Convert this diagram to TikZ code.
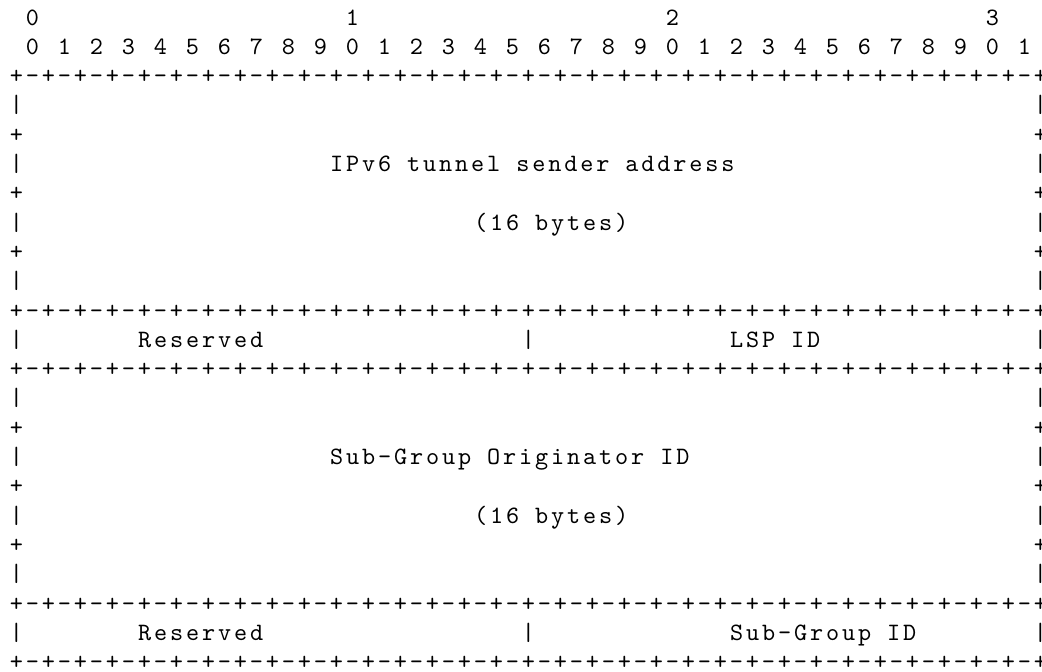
\documentclass[tikz,border=0pt]{standalone}
\usepackage{fontspec}
\usepackage{tikz}
\newfontfamily\rfcmono[LetterSpace=11.5]{lmmono10-regular.otf}
\newfontfamily\rfcglyphs{lmmono10-regular.otf}
\newcommand\rfcfont{\rfcmono\fontsize{25}{29.3}\selectfont}
\newcommand\glyphfont{\rfcglyphs\fontsize{25}{29.3}\selectfont}
\tikzset{
  glyph/.style={anchor=base,inner sep=0pt,font=\glyphfont},
  field/.style={anchor=base west,inner sep=0pt,font=\rfcfont},
}

\begin{document}
\begin{tikzpicture}[x=1pt,y=-1pt]
\useasboundingbox (0,0) rectangle (1042,672);
\fill[white] (0,0) rectangle (1042,672);
% octet numbers and bit numbers
\foreach \o in {0,1,2,3}
  \node[glyph] (oct\o) at ({16.5+16*(20*\o+1)},25) {\o};
\foreach \b in {0,...,31} {
  \pgfmathtruncatemacro\d{mod(\b,10)}
  \node[glyph] (bit\b) at ({16.5+16*(2*\b+1)},{25+29.3}) {\d};
}
% rulers
\foreach \r in {2,10,12,20,22} {
  \foreach \c in {0,2,...,64}
    \node[glyph] (p-\r-\c) at ({16.5+16*\c},{25+29.3*\r}) {+};
  \foreach \c in {1,3,...,63}
    \node[glyph] (m-\r-\c) at ({16.5+16*\c},{25+29.3*\r}) {-};
}
% side walls
\foreach \r in {3,5,7,9,11,13,15,17,19,21}
  \foreach \c in {0,64}
    \node[glyph] (v-\r-\c) at ({16.5+16*\c},{25+29.3*\r}) {|};
\foreach \r in {4,6,8,14,16,18}
  \foreach \c in {0,64}
    \node[glyph] (p-\r-\c) at ({16.5+16*\c},{25+29.3*\r}) {+};
\foreach \r in {11,21}
  \node[glyph] (v-\r-32) at ({16.5+16*32},{25+29.3*\r}) {|};
% field names
\node[field] (addr) at ({9.9+16*20},{25+29.3*5}) {IPv6 tunnel sender address};
\node[field] (addrlen) at ({9.9+16*29},{25+29.3*7}) {(16 bytes)};
\node[field] (res1) at ({9.9+16*8},{25+29.3*11}) {Reserved};
\node[field] (lspid) at ({9.9+16*45},{25+29.3*11}) {LSP ID};
\node[field] (orig) at ({9.9+16*20},{25+29.3*15}) {Sub-Group Originator ID};
\node[field] (origlen) at ({9.9+16*29},{25+29.3*17}) {(16 bytes)};
\node[field] (res2) at ({9.9+16*8},{25+29.3*21}) {Reserved};
\node[field] (subid) at ({9.9+16*45},{25+29.3*21}) {Sub-Group ID};
\end{tikzpicture}
\end{document}
